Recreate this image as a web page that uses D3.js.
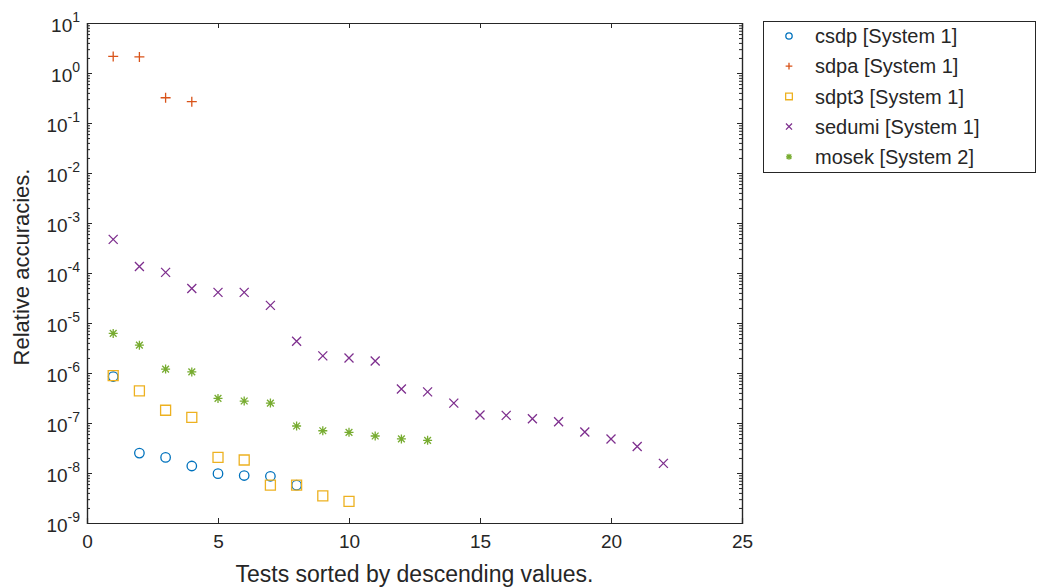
<!DOCTYPE html>
<html>
<head>
<meta charset="utf-8">
<script src="https://cdn.jsdelivr.net/npm/d3@7"></script>
<style>
  body { margin: 0; background: #fff; }
  text { font-family: "Liberation Sans", Arial, sans-serif; fill: #262626; }
</style>
</head>
<body>
<div id="chart"></div>
<script>
// values, test index is 1..n
var csdp   = [8.5e-7, 2.5e-8, 2.05e-8, 1.38e-8, 9.7e-9, 8.9e-9, 8.6e-9, 5.7e-9];
var sdpa   = [2.15, 2.1, 0.32, 0.267];
var sdpt3  = [8.9e-7, 4.4e-7, 1.8e-7, 1.3e-7, 2.05e-8, 1.82e-8, 5.7e-9, 5.7e-9, 3.5e-9, 2.7e-9];
var sedumi = [4.7e-4, 1.35e-4, 1.03e-4, 4.9e-5, 4.1e-5, 4.1e-5, 2.25e-5, 4.3e-6, 2.2e-6, 2.0e-6, 1.74e-6,
              4.8e-7, 4.2e-7, 2.5e-7, 1.45e-7, 1.42e-7, 1.22e-7, 1.06e-7, 6.6e-8, 4.8e-8, 3.4e-8, 1.56e-8];
var mosek  = [6.2e-6, 3.6e-6, 1.2e-6, 1.05e-6, 3.1e-7, 2.75e-7, 2.5e-7, 8.7e-8, 7.0e-8, 6.5e-8, 5.5e-8, 4.8e-8, 4.5e-8];

var seriesNames = ["csdp [System 1]", "sdpa [System 1]", "sdpt3 [System 1]", "sedumi [System 1]", "mosek [System 2]"];
var xTicks = [0, 5, 10, 15, 20, 25];
var yExponents = [1, 0, -1, -2, -3, -4, -5, -6, -7, -8, -9];

var blue = "#0072BD", orange = "#D95319", yellow = "#EDB120", purple = "#7E2F8E", green = "#77AC30";

// marker shapes like octave's
var plusSym = { draw: function (c, s) { var r = Math.sqrt(s) / 2; c.moveTo(-r, 0); c.lineTo(r, 0); c.moveTo(0, -r); c.lineTo(0, r); } };
var crossSym = { draw: function (c, s) { var r = Math.sqrt(s) / 2; c.moveTo(-r, -r); c.lineTo(r, r); c.moveTo(-r, r); c.lineTo(r, -r); } };
var starSym = { draw: function (c, s) {
    var r = Math.sqrt(s) / 2, q = r * 0.75;
    c.moveTo(-r, 0); c.lineTo(r, 0); c.moveTo(0, -r); c.lineTo(0, r);
    c.moveTo(-q, -q); c.lineTo(q, q); c.moveTo(-q, q); c.lineTo(q, -q);
} };
var circSym = { draw: function (c, s) { var r = Math.sqrt(s) / 2; c.moveTo(r, 0); c.arc(0, 0, r, 0, 2 * Math.PI); } };
var sqSym = { draw: function (c, s) { var r = Math.sqrt(s) / 2; c.rect(-r, -r, 2 * r, 2 * r); } };

var series = [
    {name: seriesNames[0], values: csdp, color: blue, sym: circSym, size: 90},
    {name: seriesNames[1], values: sdpa, color: orange, sym: plusSym, size: 100},
    {name: seriesNames[2], values: sdpt3, color: yellow, sym: sqSym, size: 100},
    {name: seriesNames[3], values: sedumi, color: purple, sym: crossSym, size: 81},
    {name: seriesNames[4], values: mosek, color: green, sym: starSym, size: 81}
];

var margin = {top: 23, right: 295, bottom: 65, left: 87}
    , width = 1037 - margin.left - margin.right
    , height = 588 - margin.top - margin.bottom;

var x = d3.scaleLinear().domain([0, 25]).range([0, width]);
var y = d3.scaleLog().domain([1e-9, 10]).range([height, 0]);

var svg = d3.select("#chart").append("svg")
    .attr("width", 1037)
    .attr("height", 588);

var main = svg.append("g")
    .attr("transform", "translate(" + margin.left + "," + margin.top + ")");

var axisColor = "#262626";

// minor ticks for the log axis
var minor = [];
yExponents.forEach(function (e) {
    if (e === 1) return;
    for (var k = 2; k <= 9; k++) minor.push(k * Math.pow(10, e));
});

function styleAxis(g) {
    g.selectAll("path, line").attr("stroke", axisColor);
    g.select(".domain").attr("stroke-width", 1.2);
}

main.append("g").call(d3.axisLeft(y).tickValues(minor).tickSize(-3).tickFormat("")).call(styleAxis);
main.append("g").attr("transform", "translate(" + width + ",0)")
    .call(d3.axisRight(y).tickValues(minor).tickSize(-3).tickFormat("")).call(styleAxis);
main.append("g").attr("transform", "translate(" + width + ",0)")
    .call(d3.axisRight(y).tickValues(yExponents.map(function (e) { return Math.pow(10, e); })).tickSize(-5).tickFormat(""))
    .call(styleAxis);

var yAxis = main.append("g")
    .call(d3.axisLeft(y)
        .tickValues(yExponents.map(function (e) { return Math.pow(10, e); }))
        .tickSize(-5).tickPadding(7).tickFormat(""))
    .call(styleAxis);

yAxis.selectAll(".tick text").each(function (d) {
    var e = Math.round(Math.log10(d));
    var t = d3.select(this).attr("font-size", 19).attr("dy", "0.45em");
    t.append("tspan").text("10");
    t.append("tspan").attr("font-size", 14).attr("dy", "-0.75em").text(e);
});

main.append("g").attr("transform", "translate(0," + height + ")")
    .call(d3.axisBottom(x).tickValues(xTicks).tickSize(-5).tickPadding(12))
    .call(styleAxis)
    .selectAll("text").attr("font-size", 19);

main.append("g")
    .call(d3.axisTop(x).tickValues(xTicks).tickSize(-5).tickFormat(""))
    .call(styleAxis);

// axis titles
main.append("text")
    .attr("x", width / 2)
    .attr("y", height + 59)
    .attr("text-anchor", "middle")
    .attr("font-size", 23)
    .text("Tests sorted by descending values.");

main.append("text")
    .attr("transform", "rotate(-90)")
    .attr("x", -height / 2 + 6)
    .attr("y", -58)
    .attr("text-anchor", "middle")
    .attr("font-size", 22)
    .text("Relative accuracies.");

// points
series.forEach(function (s) {
    main.append("g").selectAll("path")
        .data(s.values)
        .enter().append("path")
        .attr("transform", function (d, i) { return "translate(" + x(i + 1) + "," + y(d) + ")"; })
        .attr("d", d3.symbol().type(s.sym).size(s.size))
        .style("fill", "none")
        .style("stroke", s.color)
        .style("stroke-width", "1.3px");
});

// legend
var legend = svg.append("g").attr("transform", "translate(763,21)");
legend.append("rect")
    .attr("x", 0.5).attr("y", 0.5)
    .attr("width", 272).attr("height", 151)
    .style("fill", "#fff")
    .style("stroke", axisColor)
    .style("stroke-width", "1px");

var item = legend.selectAll(".item")
    .data(series)
    .enter().append("g")
    .attr("transform", function (d, i) { return "translate(0," + (15 + i * 30.2) + ")"; });

item.append("path")
    .attr("transform", "translate(26,0)")
    .attr("d", function (d) { return d3.symbol().type(d.sym).size(d.size * 0.45)(); })
    .style("fill", "none")
    .style("stroke", function (d) { return d.color; })
    .style("stroke-width", "1.3px");

item.append("text")
    .attr("x", 52)
    .attr("dy", "0.36em")
    .attr("font-size", 20)
    .text(function (d) { return d.name; });
</script>
</body>
</html>
